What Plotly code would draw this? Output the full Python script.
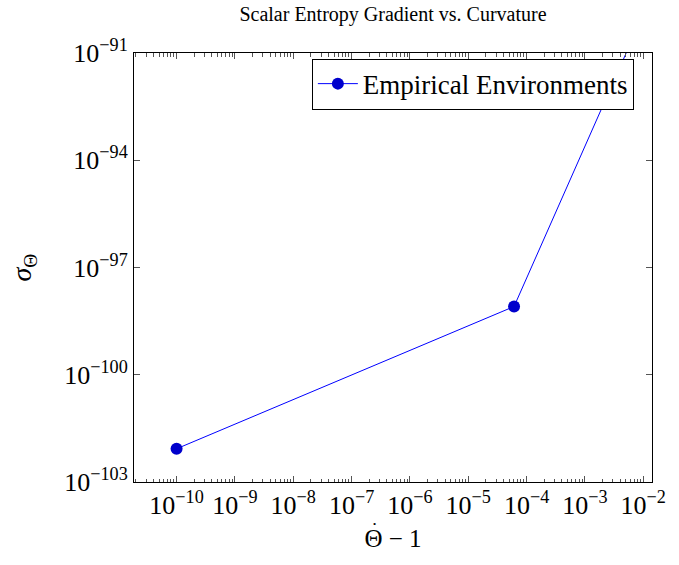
import plotly.graph_objects as go

x_vals = [1e-10, 6.1e-5, 1e-2]
y_vals = [8.5e-103, 8.1e-99, 1.2e-90]
series_name = "Empirical Environments"
x_tick_exps = [-10, -9, -8, -7, -6, -5, -4, -3, -2]
y_tick_exps = [-103, -100, -97, -94, -91]

x_tickvals = [10.0 ** e for e in x_tick_exps]
x_ticktext = ["10<sup>\u2212%d</sup>" % (-e) for e in x_tick_exps]
y_tickvals = [10.0 ** e for e in y_tick_exps]
y_ticktext = ["10<sup>\u2212%d</sup>" % (-e) for e in y_tick_exps]
# minor tick positions (2..9 within each decade) for the log x axis
minor_x = [k * 10.0 ** e for e in range(-11, -1) for k in range(2, 10)]

fig = go.Figure()
fig.add_trace(go.Scatter(
    x=x_vals, y=y_vals, mode="lines+markers", name=series_name,
    line=dict(color="#0000ff", width=1),
    marker=dict(color="#0000cc", size=12, line=dict(width=0)),
    cliponaxis=True,
))

font = "Liberation Serif"
W, H = 679, 565
L, T, R, B = 134, 53, 27, 83
PW, PH = W - L - R, H - T - B

# dot accent above the Theta of the x-axis title
fig.add_annotation(text="\u2022", xref="paper", yref="paper",
                   x=(374 - L) / PW, y=1 - (524 - T) / PH, showarrow=False,
                   font=dict(size=9, family=font, color="black"),
                   xanchor="center", yanchor="middle")

fig.update_layout(
    width=W, height=H,
    margin=dict(l=L, r=R, t=T, b=B),
    paper_bgcolor="white", plot_bgcolor="white",
    font=dict(family=font, size=26, color="black"),
    title=dict(text="Scalar Entropy Gradient vs. Curvature", x=(L + W - R) / 2 / W,
               xanchor="center", y=1 - 14 / H, yanchor="middle", font=dict(size=20)),
    showlegend=True,
    legend=dict(x=0.965, y=0.987, xanchor="right", yanchor="top",
                bordercolor="black", borderwidth=1, bgcolor="white",
                font=dict(size=27), itemwidth=40),
    xaxis=dict(type="log", range=[-10.73, -1.85],
               tickmode="array", tickvals=x_tickvals, ticktext=x_ticktext,
               tickangle=0,
               showgrid=False, zeroline=False, showline=True, linecolor="black", linewidth=1,
               mirror="allticks", ticks="inside", ticklen=6, tickcolor="#555",
               minor=dict(tickmode="array", tickvals=minor_x, ticks="inside", ticklen=3.5,
                          tickcolor="#555", showgrid=False),
               title=dict(text="Θ − 1", font=dict(size=25), standoff=10),
               tickfont=dict(size=26)),
    yaxis=dict(type="log", range=[-103, -91],
               tickmode="array", tickvals=y_tickvals, ticktext=y_ticktext,
               showgrid=False, zeroline=False, showline=True, linecolor="black", linewidth=1,
               mirror="allticks", ticks="inside", ticklen=6, tickcolor="#555",
               title=dict(text="<i>σ</i><sub>Θ</sub>", font=dict(size=28), standoff=24),
               tickfont=dict(size=26)),
)

fig.write_html("out.html", config={"displayModeBar": False},
               post_script="document.body.style.margin='0';document.body.style.padding='0';")
